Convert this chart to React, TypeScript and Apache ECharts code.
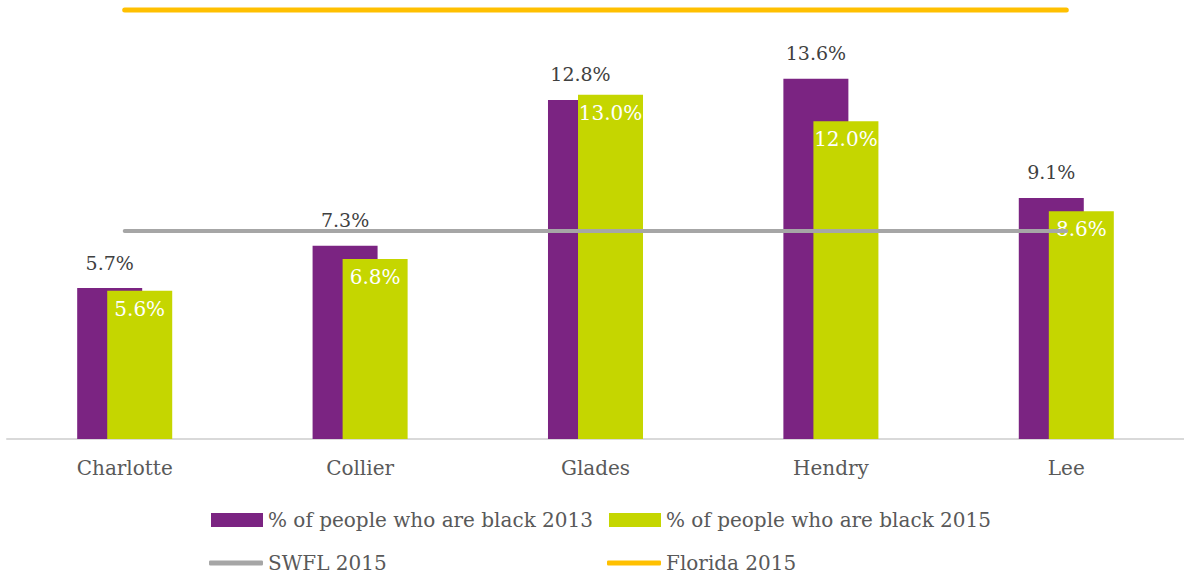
import React, { useEffect, useRef } from "react";
import * as echarts from "echarts";

const categories = ["Charlotte", "Collier", "Glades", "Hendry", "Lee"];
const black2013 = [5.7, 7.3, 12.8, 13.6, 9.1];
const black2015 = [5.6, 6.8, 13.0, 12.0, 8.6];
const swfl2015 = [7.85, 7.85, 7.85, 7.85, 7.85];
const florida2015 = [16.2, 16.2, 16.2, 16.2, 16.2];
const seriesNames = [
  "% of people who are black 2013",
  "% of people who are black 2015",
  "SWFL 2015",
  "Florida 2015",
];

const FONT = "DejaVu Serif";
const TEXT = "#595959";

export default function App() {
  const ref = useRef<HTMLDivElement>(null);
  useEffect(() => {
    document.body.style.margin = "0";
    const chart = echarts.init(ref.current!, null, { renderer: "svg" });
    const legendBase = {
      orient: "horizontal",
      padding: 0,
      itemGap: 0,
      textStyle: { color: TEXT, fontSize: 20, fontFamily: FONT },
    };
    chart.setOption({
      animation: false,
      grid: { left: 7, width: 1180, top: 2, bottom: 136, containLabel: false },
      legend: [
        { ...legendBase, data: [seriesNames[0]], left: 211, top: 510, itemWidth: 52, itemHeight: 14, icon: "rect" },
        { ...legendBase, data: [seriesNames[1]], left: 609, top: 510, itemWidth: 52, itemHeight: 14, icon: "rect" },
        { ...legendBase, data: [seriesNames[2]], left: 209, top: 553, itemWidth: 54, itemHeight: 5, icon: "roundRect" },
        { ...legendBase, data: [seriesNames[3]], left: 607, top: 553, itemWidth: 54, itemHeight: 5, icon: "roundRect" },
      ],
      xAxis: {
        type: "category",
        data: categories,
        axisLine: { lineStyle: { color: "#d9d9d9", width: 2 } },
        axisTick: { show: false },
        axisLabel: { color: TEXT, fontSize: 20, fontFamily: FONT, margin: 19 },
      },
      yAxis: {
        type: "value",
        min: 0,
        max: 16.5,
        show: false,
        splitLine: { show: false },
      },
      series: [
        {
          name: seriesNames[0],
          type: "bar",
          data: black2013,
          barWidth: 65,
          barGap: "-53.8%",
          itemStyle: { color: "#7B2482" },
          label: {
            show: true,
            position: "top",
            distance: 16,
            formatter: (p: any) => p.value.toFixed(1) + "%",
            color: "#404040",
            fontSize: 19,
            fontFamily: FONT,
          },
        },
        {
          name: seriesNames[1],
          type: "bar",
          data: black2015,
          barWidth: 65,
          barGap: "-53.8%",
          itemStyle: { color: "#C5D600" },
          label: {
            show: true,
            position: "insideTop",
            distance: 8,
            formatter: (p: any) => p.value.toFixed(1) + "%",
            color: "#ffffff",
            fontSize: 20,
            fontFamily: FONT,
          },
        },
        {
          name: seriesNames[2],
          type: "line",
          data: swfl2015,
          symbol: "none",
          itemStyle: { color: "#A6A6A6" },
          lineStyle: { color: "#A6A6A6", width: 4, cap: "round" },
        },
        {
          name: seriesNames[3],
          type: "line",
          data: florida2015,
          symbol: "none",
          itemStyle: { color: "#FFC000" },
          lineStyle: { color: "#FFC000", width: 5, cap: "round" },
        },
      ],
    });
    return () => chart.dispose();
  }, []);
  return (
    <div
      ref={ref}
      style={{ position: "fixed", left: 0, top: 0, width: 1184, height: 575, background: "#fff" }}
    />
  );
}
